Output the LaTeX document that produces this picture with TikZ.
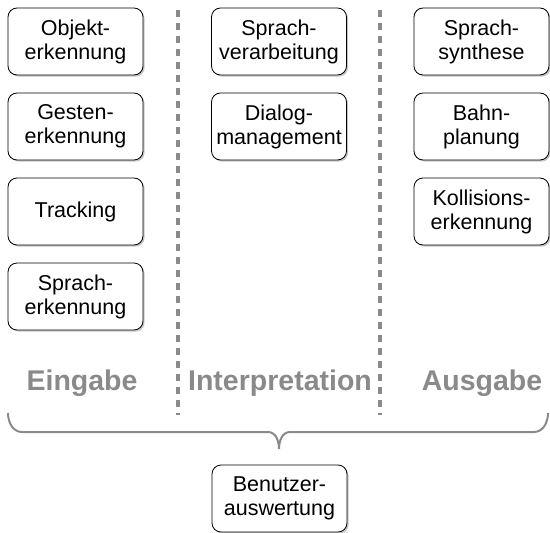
\documentclass[tikz,border=0pt]{standalone}
\usepackage{fontspec}
\setmainfont{Liberation Sans}
\usetikzlibrary{shadows}
\definecolor{labelgray}{HTML}{8A8A8A}
\tikzset{
  modul/.style={draw, line width=0.8pt, rounded corners=9pt, fill=white,
    minimum width=135pt, minimum height=67pt, align=center,
    font=\fontsize{21.5}{24}\selectfont,
    drop shadow={shadow xshift=1.6pt, shadow yshift=-1.6pt, fill=black!45}},
  phase/.style={anchor=base, text=labelgray, font=\fontsize{28.5}{30}\selectfont\bfseries},
  trenner/.style={labelgray, line width=4pt, dash pattern=on 7pt off 6pt},
  klammer/.style={labelgray, line width=2pt}
}
\begin{document}
\begin{tikzpicture}[x=1pt, y=1pt]
    \useasboundingbox (0,0) rectangle (550,-533);
    % Trennlinien
    \draw[trenner] (178,-10) -- (178,-415);
    \draw[trenner] (380,-10) -- (380,-415);
    % Eingabe
    \node[modul] (objekt)   at (75.5,-41.5)  {Objekt-\\erkennung};
    \node[modul] (gesten)   at (75.5,-126.5) {Gesten-\\erkennung};
    \node[modul] (tracking) at (75.5,-211.5) {Tracking};
    \node[modul] (spracherk) at (75.5,-296.5) {Sprach-\\erkennung};
    % Interpretation
    \node[modul] (sprachverarb) at (279,-41.5)  {Sprach-\\verarbeitung};
    \node[modul] (dialog)       at (279,-126.5) {Dialog-\\management};
    % Ausgabe
    \node[modul] (synthese)  at (481.5,-41.5)  {Sprach-\\synthese};
    \node[modul] (bahn)      at (481.5,-126.5) {Bahn-\\planung};
    \node[modul] (kollision) at (481.5,-211.5) {Kollisions-\\erkennung};
    % Phasen
    \node[phase] (eingabe) at (82,-390)  {Eingabe};
    \node[phase] (interpr) at (280,-390) {Interpretation};
    \node[phase] (ausgabe) at (482,-390) {Ausgabe};
    % Klammer
    \coordinate (kl) at (8,-413);
    \coordinate (kr) at (548,-413);
    \coordinate (spitze) at (279,-449);
    \draw[klammer] (kl) to[out=-90,in=180] (22,-432) -- (268,-432)
      to[out=0,in=90] (spitze);
    \draw[klammer] (kr) to[out=-90,in=0] (534,-432) -- (290,-432)
      to[out=180,in=90] (spitze);
    % Auswertung
    \node[modul] (auswertung) at (279.5,-498.5) {Benutzer-\\auswertung};
\end{tikzpicture}
\end{document}
